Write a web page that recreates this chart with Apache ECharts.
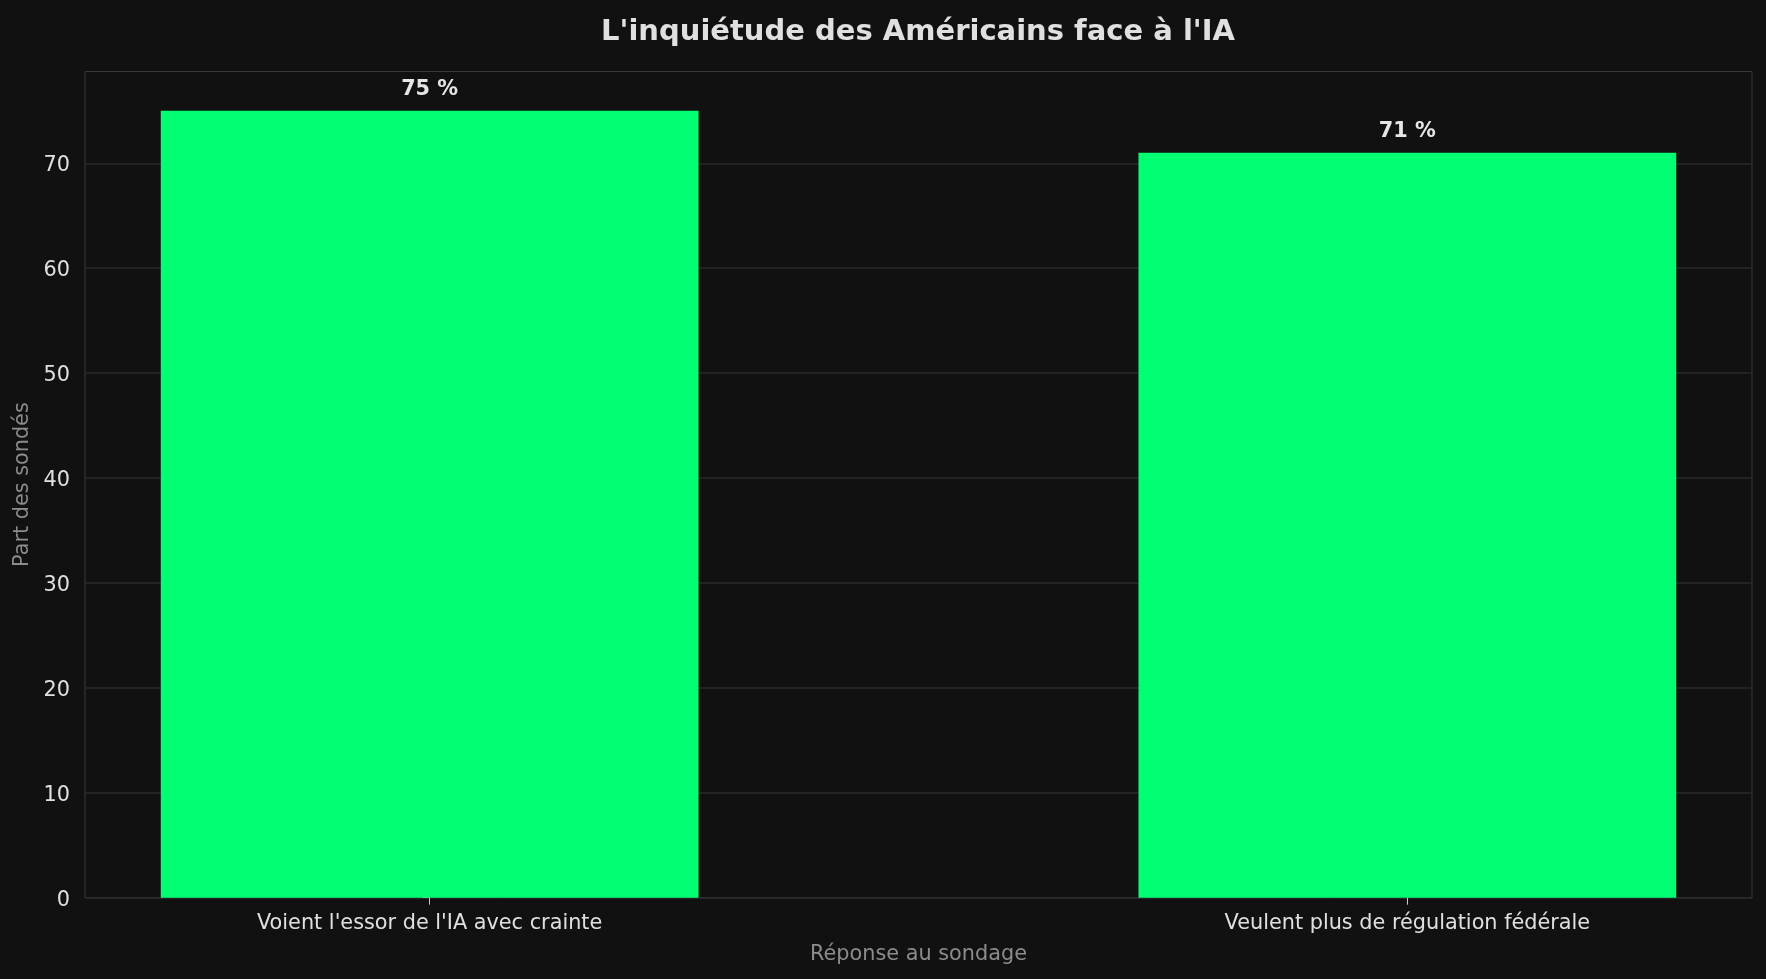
<!DOCTYPE html>
<html>
<head>
<meta charset="utf-8">
<script src="https://cdn.jsdelivr.net/npm/echarts@6/dist/echarts.min.js"></script>
<style>
html,body{margin:0;padding:0;background:#111111;}
#chart{width:1766px;height:979px;}
</style>
</head>
<body>
<div id="chart"></div>
<script>
const categories = ["Voient l'essor de l'IA avec crainte", "Veulent plus de régulation fédérale"];
const values = [75, 71];
const yTicks = [0, 10, 20, 30, 40, 50, 60, 70];

const FONT = 'DejaVu Sans';
const chart = echarts.init(document.getElementById('chart'), null, {renderer: 'canvas'});
const catPositions = categories.map((c, i) => i);

chart.setOption({
  backgroundColor: '#111111',
  animation: false,
  title: {
    text: "L'inquiétude des Américains face à l'IA",
    left: 918,
    top: 17.5,
    textAlign: 'center',
    padding: 0,
    textStyle: {color: '#e0e0e0', fontFamily: FONT, fontWeight: 'bold', fontSize: 29}
  },
  grid: {
    left: 85, right: 14, top: 71.5, bottom: 81.3,
    show: true, borderColor: '#3a3a3a', borderWidth: 1, backgroundColor: 'transparent',
    containLabel: false
  },
  xAxis: {
    type: 'value',
    min: -0.3525,
    max: 1.3525,
    name: 'Réponse au sondage',
    nameLocation: 'middle',
    nameGap: 46.5,
    nameTextStyle: {color: '#8c8c8c', fontFamily: FONT, fontSize: 20.8},
    axisLine: {show: false},
    splitLine: {show: false},
    axisTick: {show: true, customValues: catPositions, length: 7, lineStyle: {color: '#cccccc', width: 1}},
    axisLabel: {
      customValues: catPositions,
      formatter: v => categories[Math.round(v)],
      color: '#e0e0e0', fontFamily: FONT, fontSize: 20.8, margin: 15
    }
  },
  yAxis: {
    type: 'value',
    min: 0,
    max: 78.75,
    name: 'Part des sondés',
    nameLocation: 'middle',
    nameGap: 50,
    nameTextStyle: {color: '#8c8c8c', fontFamily: FONT, fontSize: 20.8},
    axisLine: {show: false},
    axisTick: {show: true, customValues: yTicks, length: 7, lineStyle: {color: '#cccccc', width: 1}},
    axisLabel: {
      customValues: yTicks,
      formatter: v => '{t|' + v + '}',
      margin: 15,
      rich: {t: {color: '#e0e0e0', fontFamily: FONT, fontSize: 20.8, padding: [5, 0, 0, 0]}}
    },
    splitLine: {show: true, lineStyle: {color: '#2a2a2a', width: 1.5}}
  },
  series: [{
    type: 'bar',
    data: values.map((v, i) => [i, v]),
    barWidth: '55%',
    itemStyle: {color: '#00ff73'},
    label: {
      show: true,
      position: 'top',
      distance: 10.7,
      formatter: p => p.value[1] + ' %',
      color: '#e6e6e6', fontFamily: FONT, fontWeight: 'bold', fontSize: 20.8
    }
  }]
});
</script>
</body>
</html>
